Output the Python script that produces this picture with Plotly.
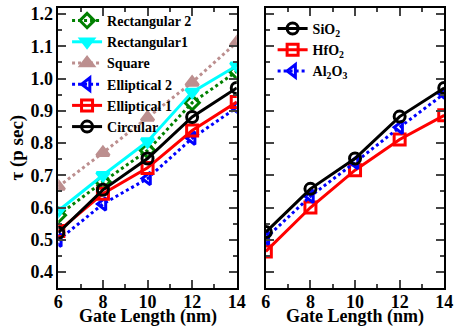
import plotly.graph_objects as go

gate_length = [6, 8, 10, 12, 14]

# Left panel: cross-section shapes
rect2 = [0.576, 0.68, 0.777, 0.925, 1.022]
rect1 = [0.59, 0.70, 0.805, 0.958, 1.04]
square = [0.665, 0.77, 0.879, 0.988, 1.112]
ellip2 = [0.499, 0.611, 0.69, 0.815, 0.91]
ellip1 = [0.527, 0.643, 0.723, 0.839, 0.927]
circular = [0.522, 0.655, 0.752, 0.881, 0.971]

# Right panel: dielectrics
sio2 = [0.524, 0.658, 0.752, 0.882, 0.971]
hfo2 = [0.464, 0.60, 0.716, 0.811, 0.886]
al2o3 = [0.505, 0.635, 0.74, 0.849, 0.953]

x_title = "Gate Length (nm)"
y_title = "τ (p sec)"

W, H = 461, 329
FONT = "Liberation Serif"

fig = go.Figure()

def add(y, name, color, symbol, dash, xa, ya, legend, rank):
    fig.add_trace(go.Scatter(
        x=gate_length, y=y, name=name, mode="lines+markers",
        line=dict(color=color, width=3, dash=dash),
        marker=dict(symbol=symbol, size=11, color=color,
                    line=dict(color=color, width=3)),
        xaxis=xa, yaxis=ya, legend=legend, legendrank=rank))

add(square, "Square", "#bc8f8f", "triangle-up", "dot", "x", "y", "legend", 3)
add(rect2, "Rectangular 2", "#008000", "diamond-open", "dot", "x", "y", "legend", 1)
add(rect1, "Rectangular1", "#00ffff", "triangle-down", "solid", "x", "y", "legend", 2)
add(ellip2, "Elliptical 2", "#0000ff", "triangle-left-open", "dot", "x", "y", "legend", 4)
add(ellip1, "Elliptical 1", "#ff0000", "square-open", "solid", "x", "y", "legend", 5)
add(circular, "Circular", "#000000", "circle-open", "solid", "x", "y", "legend", 6)

add(hfo2, "HfO<sub>2</sub>", "#ff0000", "square-open", "solid", "x2", "y2", "legend2", 2)
add(al2o3, "Al<sub>2</sub>O<sub>3</sub>", "#0000ff", "triangle-left-open", "dot", "x2", "y2", "legend2", 3)
add(sio2, "SiO<sub>2</sub>", "#000000", "circle-open", "solid", "x2", "y2", "legend2", 1)

yr = [0.352, 1.219]
tickfont = dict(family=FONT, size=18, color="black", weight="bold")
xcommon = dict(range=[6, 14], tickvals=[6, 8, 10, 12, 14], ticks="inside", ticklen=8,
               tickwidth=1.5, mirror="ticks", showline=True, linecolor="black",
               linewidth=1.5, showgrid=False, zeroline=False, ticklabelstandoff=-3,
               minor=dict(ticks="inside", ticklen=4, dtick=1, tickwidth=1.5, showgrid=False),
               tickfont=tickfont)
ycommon = dict(range=yr, tickvals=[0.4, 0.5, 0.6, 0.7, 0.8, 0.9, 1.0, 1.1, 1.2],
               ticks="inside", ticklen=8, tickwidth=1.5, mirror="ticks", showline=True,
               linecolor="black", linewidth=1.5, showgrid=False, zeroline=False,
               minor=dict(ticks="inside", ticklen=4, dtick=0.05, tick0=0.4, tickwidth=1.5, showgrid=False),
               tickfont=tickfont)

legfont = dict(family=FONT, size=14, color="black", weight="bold")
titlefont = dict(family=FONT, size=18, color="black", weight="bold")
fig.update_layout(
    width=W, height=H, margin=dict(l=0, r=0, t=0, b=0),
    paper_bgcolor="white", plot_bgcolor="white",
    font=dict(family=FONT, color="black"),
    xaxis=dict(domain=[55/W, 239/W], anchor="y", **xcommon),
    xaxis2=dict(domain=[269/W, 453/W], anchor="y2", **xcommon),
    yaxis=dict(domain=[1-287/H, 1-4/H], anchor="x", tickformat=".1f",
               title=dict(text=y_title, standoff=2,
                          font=dict(family=FONT, size=19, color="black", weight="bold")),
               **ycommon),
    yaxis2=dict(domain=[1-287/H, 1-4/H], anchor="x2", showticklabels=False, **ycommon),
    legend=dict(x=64/W, y=1-1/H, xanchor="left", yanchor="top",
                bgcolor="rgba(0,0,0,0)", itemwidth=30, font=legfont),
    legend2=dict(x=276/W, y=1-9/H, xanchor="left", yanchor="top",
                 bgcolor="rgba(0,0,0,0)", itemwidth=30, font=legfont),
    showlegend=True,
    annotations=[
        dict(text=x_title, xref="x domain", yref="paper", x=0.5, y=1-316/H,
             xanchor="center", yanchor="middle", showarrow=False, font=titlefont),
        dict(text=x_title, xref="x2 domain", yref="paper", x=0.5, y=1-316/H,
             xanchor="center", yanchor="middle", showarrow=False, font=titlefont),
    ],
)

fig.write_html("out.html")
